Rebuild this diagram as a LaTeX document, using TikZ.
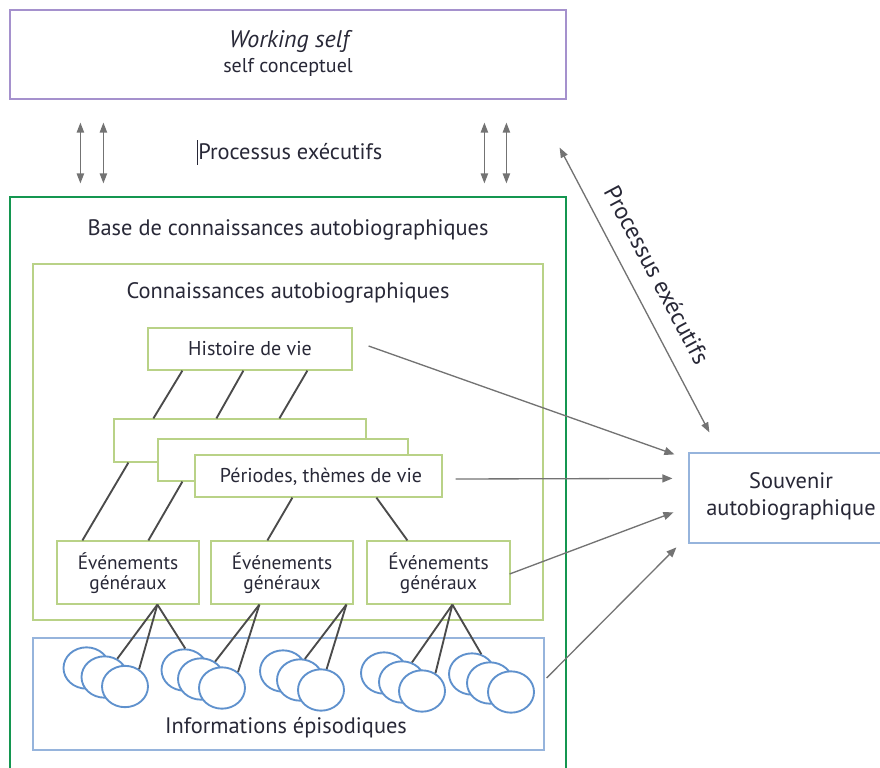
\documentclass[tikz,border=0pt]{standalone}
\usepackage{fontspec}
\setmainfont{PT Sans}
\usetikzlibrary{fit,calc,arrows.meta,shapes.geometric}
\definecolor{txtc}{RGB}{40,40,55}
\definecolor{purp}{RGB}{165,145,205}
\definecolor{dgreen}{RGB}{20,150,80}
\definecolor{lgreen}{RGB}{185,210,135}
\definecolor{bbox}{RGB}{150,180,220}
\definecolor{ecirc}{RGB}{95,145,205}
\definecolor{agray}{RGB}{115,115,115}
\definecolor{lgray}{RGB}{75,75,75}
\begin{document}
\begin{tikzpicture}[x=0.75pt,y=-0.75pt,
  every node/.style={text=txtc},
  box/.style={draw, line width=0.9pt, inner sep=0pt, fill=white},
  lab/.style={font=\fontsize{15}{19}\selectfont, inner sep=0pt},
  big/.style={font=\fontsize{16.8}{20}\selectfont, inner sep=0pt},
  evt/.style={font=\fontsize{14.5}{15}\selectfont, align=center, inner sep=0pt},
  link/.style={draw=lgray, line width=1.4pt},
  arr/.style={draw=agray, line width=1pt, -{Triangle[length=7.5pt,width=6pt]}},
  darr/.style={draw=agray, line width=1pt, {Triangle[length=7.5pt,width=5.5pt]}-{Triangle[length=7.5pt,width=5.5pt]}},
  epi/.style={ellipse, draw=ecirc, line width=1.4pt, fill=white, minimum width=34.5pt, minimum height=31pt, inner sep=0pt}
]
\useasboundingbox (0,0) rectangle (880,767);

% top box
\node[box, draw=purp, fit={(10,10)(566,99)}] (ws) {};
\node[font=\fontsize{18}{20}\selectfont\itshape, inner sep=0pt] (wsl1) at (289,42) {Working self};
\node[lab] (wsl2) at (288,67) {self conceptuel};
\node[big, anchor=west] (pe1) at (198,152) {Processus exécutifs};
\draw[txtc, line width=0.6pt] (197,140) -- (197,165);

% outer green box
\node[box, draw=dgreen, fill=none, fit={(10,197)(566,790)}] (base) {};
\node[big] (basel) at (288,230) {Base de connaissances autobiographiques};

% light green box
\node[box, draw=lgreen, fill=none, fit={(33,264)(543,620)}] (conn) {};
\node[big] (connl) at (288,293) {Connaissances autobiographiques};

% vertical double arrows
\draw[darr] ($(ws.south west)+(71,23)$) -- ($(base.north west)+(71,-13)$);
\draw[darr] ($(ws.south west)+(94,23)$) -- ($(base.north west)+(94,-13)$);
\draw[darr] ($(ws.south west)+(475,23)$) -- ($(base.north west)+(475,-13)$);
\draw[darr] ($(ws.south west)+(497,23)$) -- ($(base.north west)+(497,-13)$);

% histoire de vie
\node[box, draw=lgreen, fit={(148,328)(352,370)}] (hist) {};
\node[lab] (histl) at (250,349) {Histoire de vie};

% period boxes
\node[box, draw=lgreen, fit={(114,419)(366,462)}] (p1) {};
\node[box, draw=lgreen, fit={(158,439)(408,481)}] (p2) {};
\node[box, draw=lgreen, fit={(195,455)(442,497)}] (p3) {};
\node[lab] (p3l) at (321,477) {Périodes, thèmes de vie};

% event boxes
\node[box, draw=lgreen, fit={(57,541)(199,604)}] (evA) {};
\node[box, draw=lgreen, fit={(211,541)(353,604)}] (evB) {};
\node[box, draw=lgreen, fit={(367,541)(510,604)}] (evC) {};
\node[evt] (evAl) at (128,573) {Événements\\généraux};
\node[evt] (evBl) at (282,573) {Événements\\généraux};
\node[evt] (evCl) at (438.5,573) {Événements\\généraux};

% links histoire -> periodes
\draw[link] ($(hist.south west)+(35,0)$) -- ($(p1.north west)+(40,0)$);
\draw[link] ($(hist.south west)+(96,0)$) -- ($(p1.north west)+(103,0)$);
\draw[link] ($(hist.south west)+(160,0)$) -- ($(p1.north west)+(166,0)$);
% links periodes -> evenements
\draw[link] ($(p1.south west)+(15,0)$) -- ($(evA.north west)+(26,0)$);
\draw[link] ($(p2.south west)+(25,0)$) -- ($(evA.north west)+(92,0)$);
\draw[link] ($(p3.south west)+(98,0)$) -- ($(evB.north west)+(57,0)$);
\draw[link] ($(p3.south west)+(182,0)$) -- ($(evC.north west)+(41,0)$);

% episodic box
\node[box, draw=bbox, fill=none, fit={(33,638)(544,750)}] (epis) {};
\node[big] (episl) at (286,728) {Informations épisodiques};

% ellipses
\node[epi] (g1a) at (86.5,668) {};
\node[epi] (g1b) at (104.5,677) {};
\node[epi] (g1c) at (125,686.5) {};
\node[epi] (g2a) at (184.5,670) {};
\node[epi] (g2b) at (201,679) {};
\node[epi] (g2c) at (222,688) {};
\node[epi] (g3a) at (283,671) {};
\node[epi] (g3b) at (300,680) {};
\node[epi] (g3c) at (321,690) {};
\node[epi] (g4a) at (384,673) {};
\node[epi] (g4b) at (402,682) {};
\node[epi] (g4c) at (422,691) {};
\node[epi] (g5a) at (472,674) {};
\node[epi] (g5b) at (490,683) {};
\node[epi] (g5c) at (511,692) {};

% links evenements -> episodes
\draw[link] ($(evA.south west)+(101,0)$) -- (g1b.55);
\draw[link] ($(evA.south west)+(101,0)$) -- (g1c.51);
\draw[link] ($(evA.south west)+(101,0)$) -- (g2a.88);
\draw[link] ($(evB.south west)+(49,0)$) -- (g2b.51);
\draw[link] ($(evB.south west)+(49,0)$) -- (g2c.45);
\draw[link] ($(evB.south west)+(136,0)$) -- (g3b.77);
\draw[link] ($(evB.south west)+(136,0)$) -- (g3c.75);
\draw[link] ($(evC.south west)+(86,0)$) -- (g4b.63);
\draw[link] ($(evC.south west)+(86,0)$) -- (g4c.53);
\draw[link] ($(evC.south west)+(86,0)$) -- (g5a.65);

% souvenir
\node[box, draw=bbox, fit={(689,453)(893,543)}] (souv) {};
\node[font=\fontsize{16.8}{20.25}\selectfont, align=center, inner sep=0pt] (souvl) at (791,496) {Souvenir\\autobiographique};

% arrows to souvenir
\draw[arr] ($(hist.east)+(16,-3)$) -- ($(souv.north west)+(-14,2)$);
\draw[arr] ($(p3.east)+(13,3)$) -- ($(souv.north west)+(-16,26)$);
\draw[arr] ($(evC.east)+(-1,1.5)$) -- ($(souv.north west)+(-15,60)$);
\draw[arr] ($(epis.east)+(2,-16)$) -- ($(souv.north west)+(-12,95)$);
\draw[darr] ($(ws.south east)+(-7,48)$) -- ($(souv.north west)+(21,-20)$);
\node[font=\fontsize{18}{20}\selectfont, rotate=-62, inner sep=0pt] (pe2) at (657,275) {Processus exécutifs};
\end{tikzpicture}
\end{document}
